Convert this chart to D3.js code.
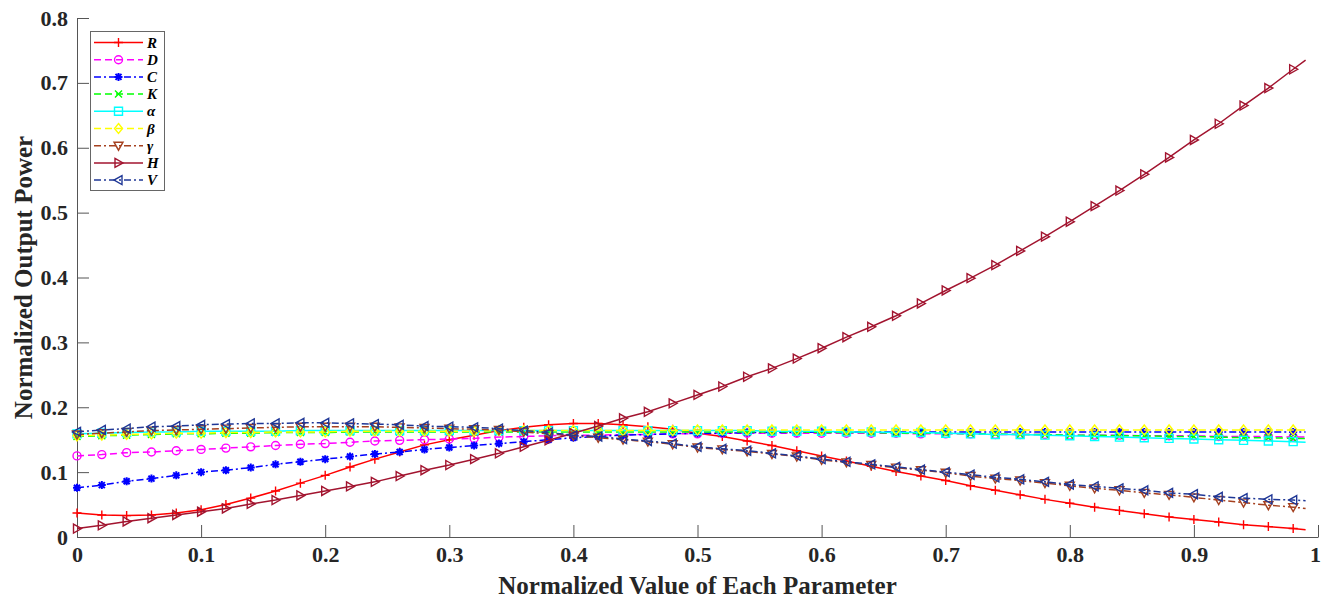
<!DOCTYPE html>
<html>
<head>
<meta charset="utf-8">
<script src="https://d3js.org/d3.v7.min.js"></script>
<style>
  body { margin: 0; background: #fff; }
  text { font-family: "Liberation Serif", "Times New Roman", serif; font-weight: bold; }
</style>
</head>
<body>
<div id="chart"></div>
<script>
// x positions: markers every 0.02, last point (0.99) is line end only
var xs = d3.range(0, 50).map(function(i) { return +(i * 0.02).toFixed(2); }).concat([0.99]);

var R = [0.037,0.034,0.033,0.034,0.037,0.042,0.050,0.060,0.071,0.083,
         0.095,0.108,0.120,0.131,0.142,0.150,0.157,0.164,0.169,0.173,
         0.175,0.175,0.173,0.170,0.166,0.160,0.155,0.148,0.141,0.133,
         0.125,0.117,0.109,0.101,0.094,0.087,0.079,0.072,0.065,0.058,
         0.052,0.046,0.041,0.036,0.031,0.027,0.023,0.019,0.016,0.013, 0.011];
var D = [0.125,0.127,0.130,0.131,0.133,0.135,0.137,0.139,0.141,0.143,
         0.144,0.146,0.148,0.149,0.150,0.151,0.152,0.154,0.155,0.156,
         0.157,0.157,0.158,0.158,0.159,0.159,0.160,0.160,0.160,0.160,
         0.160,0.160,0.160,0.160,0.159,0.159,0.159,0.158,0.158,0.158,
         0.157,0.157,0.157,0.156,0.156,0.156,0.155,0.155,0.155,0.154, 0.154];
var C = [0.076,0.080,0.086,0.090,0.095,0.100,0.103,0.107,0.112,0.116,
         0.120,0.124,0.128,0.131,0.135,0.138,0.141,0.144,0.147,0.150,
         0.153,0.155,0.157,0.158,0.159,0.160,0.160,0.161,0.161,0.161,
         0.162,0.162,0.162,0.162,0.162,0.162,0.162,0.162,0.162,0.162,
         0.162,0.162,0.162,0.162,0.162,0.162,0.162,0.162,0.162,0.162, 0.162];
var K = [0.155,0.156,0.157,0.158,0.159,0.159,0.160,0.160,0.161,0.161,
         0.161,0.162,0.162,0.162,0.162,0.162,0.162,0.162,0.162,0.162,
         0.162,0.162,0.162,0.162,0.162,0.162,0.162,0.162,0.162,0.162,
         0.161,0.161,0.161,0.160,0.160,0.160,0.159,0.159,0.158,0.158,
         0.157,0.157,0.156,0.156,0.155,0.155,0.154,0.153,0.153,0.152, 0.152];
var alpha = [0.159,0.160,0.161,0.162,0.162,0.163,0.163,0.163,0.163,0.164,
         0.164,0.164,0.164,0.164,0.164,0.164,0.164,0.164,0.164,0.164,
         0.164,0.164,0.164,0.164,0.164,0.164,0.164,0.164,0.163,0.163,
         0.163,0.162,0.162,0.161,0.161,0.160,0.159,0.158,0.158,0.157,
         0.156,0.155,0.154,0.153,0.152,0.151,0.150,0.149,0.148,0.147, 0.146];
var beta = [0.156,0.157,0.158,0.159,0.160,0.160,0.161,0.161,0.162,0.162,
         0.162,0.163,0.163,0.163,0.163,0.163,0.163,0.164,0.164,0.164,
         0.164,0.164,0.164,0.164,0.164,0.165,0.165,0.165,0.165,0.165,
         0.165,0.165,0.165,0.165,0.165,0.165,0.165,0.165,0.165,0.165,
         0.165,0.165,0.165,0.165,0.165,0.165,0.165,0.165,0.165,0.165, 0.165];
var gamma = [0.158,0.160,0.162,0.164,0.165,0.166,0.167,0.168,0.169,0.170,
         0.170,0.170,0.170,0.169,0.168,0.167,0.166,0.165,0.162,0.159,
         0.156,0.153,0.150,0.147,0.143,0.138,0.135,0.132,0.128,0.124,
         0.119,0.115,0.111,0.107,0.103,0.099,0.094,0.090,0.087,0.083,
         0.079,0.075,0.072,0.068,0.065,0.061,0.057,0.053,0.049,0.046, 0.044];
var H = [0.013,0.018,0.024,0.029,0.034,0.039,0.044,0.051,0.057,0.064,
         0.071,0.078,0.085,0.094,0.103,0.111,0.120,0.129,0.139,0.149,
         0.160,0.171,0.183,0.193,0.206,0.219,0.232,0.247,0.260,0.275,
         0.291,0.308,0.324,0.341,0.360,0.380,0.399,0.419,0.441,0.463,
         0.486,0.510,0.534,0.559,0.585,0.612,0.637,0.665,0.692,0.721, 0.735];
var V = [0.162,0.165,0.167,0.170,0.171,0.173,0.174,0.175,0.175,0.176,
         0.176,0.175,0.174,0.173,0.171,0.170,0.169,0.167,0.164,0.161,
         0.157,0.155,0.151,0.148,0.144,0.139,0.136,0.133,0.129,0.125,
         0.120,0.116,0.112,0.108,0.104,0.100,0.096,0.092,0.089,0.085,
         0.081,0.078,0.075,0.072,0.068,0.066,0.062,0.060,0.058,0.057, 0.056];

var xTicks = [0,0.1,0.2,0.3,0.4,0.5,0.6,0.7,0.8,0.9,1];
var yTicks = [0,0.1,0.2,0.3,0.4,0.5,0.6,0.7,0.8];

var series = [
  {name: "R", values: R,     color: "#ff0000", dash: null,        marker: "plus"},
  {name: "D", values: D,     color: "#ff00ff", dash: "7,4",       marker: "circle"},
  {name: "C", values: C,     color: "#0000ff", dash: "7,3,2,3",   marker: "star"},
  {name: "K", values: K,     color: "#00ff00", dash: "7,4",       marker: "cross"},
  {name: "\u03b1", values: alpha, color: "#00ffff", dash: null,   marker: "square"},
  {name: "\u03b2", values: beta,  color: "#ffff00", dash: "7,4",  marker: "diamond"},
  {name: "\u03b3", values: gamma, color: "#a5401f", dash: "7,3,2,3", marker: "down"},
  {name: "H", values: H,     color: "#a2142f", dash: null,        marker: "right"},
  {name: "V", values: V,     color: "#1f3796", dash: "7,3,2,3",   marker: "left"}
];

var width = 1322, height = 600;
var svg = d3.select("#chart").append("svg")
    .attr("width", width)
    .attr("height", height);

var x = d3.scaleLinear().domain([0, 1]).range([77, 1318]);
var y = d3.scaleLinear().domain([0, 0.8]).range([537, 18]);

// marker path around (0,0)
function markerPath(type) {
  var s = 4.5;
  switch (type) {
    case "plus":   return "M" + (-s) + ",0H" + s + "M0," + (-s) + "V" + s;
    case "cross":  return "M-3.5,-3.5L3.5,3.5M-3.5,3.5L3.5,-3.5";
    case "star":   return "M-4,0H4M0,-4V4M-3,-3L3,3M-3,3L3,-3";
    case "circle": return d3.symbol(d3.symbolCircle, 50)();
    case "square": return "M-4,-4H4V4H-4Z";
    case "diamond":return "M0,-5L4,0L0,5L-4,0Z";
    case "down":   return "M-4.5,-3.5H4.5L0,4.5Z";
    case "right":  return "M-3.5,-4.5L4.5,0L-3.5,4.5Z";
    case "left":   return "M3.5,-4.5L-4.5,0L3.5,4.5Z";
  }
}

// axes
var xAxis = d3.axisBottom(x).tickValues(xTicks).tickSizeInner(-12).tickSizeOuter(0)
    .tickPadding(9).tickFormat(d3.format("~g"));
var yAxis = d3.axisLeft(y).tickValues(yTicks).tickSizeInner(-12).tickSizeOuter(0)
    .tickPadding(9).tickFormat(d3.format("~g"));

var gx = svg.append("g").attr("transform", "translate(0,537)").call(xAxis);
var gy = svg.append("g").attr("transform", "translate(77,0)").call(yAxis);
[gx, gy].forEach(function(g) {
  g.selectAll("path, line").attr("stroke", "#555").attr("stroke-width", 1);
  g.selectAll("text").attr("fill", "#262626").style("font-size", "22px")
    .style("font-family", "'Liberation Serif', serif").style("font-weight", "bold");
});
// keep the last x label inside the page
gx.selectAll(".tick text").filter(function(d) { return d === 1; }).attr("dx", -3);

// lines and markers
var line = d3.line()
    .x(function(d, i) { return x(xs[i]); })
    .y(function(d) { return y(d); });

var plot = svg.append("g");
series.forEach(function(s) {
  var g = plot.append("g");
  g.append("path")
    .attr("d", line(s.values))
    .attr("fill", "none")
    .attr("stroke", s.color)
    .attr("stroke-width", 1.5)
    .attr("stroke-dasharray", s.dash);
  g.selectAll("path.m")
    .data(s.values.slice(0, 50))
    .enter().append("path")
      .attr("class", "m")
      .attr("transform", function(d, i) { return "translate(" + x(xs[i]) + "," + y(d) + ")"; })
      .attr("d", markerPath(s.marker))
      .attr("fill", "none")
      .attr("stroke", s.color)
      .attr("stroke-width", s.marker === "star" ? 2 : 1.4);
});

// axis titles
svg.append("text")
    .attr("x", 697.5).attr("y", 594)
    .attr("text-anchor", "middle")
    .attr("fill", "#262626")
    .style("font-size", "25px")
    .text("Normalized Value of Each Parameter");

svg.append("text")
    .attr("transform", "translate(32,277.5) rotate(-90)")
    .attr("text-anchor", "middle")
    .attr("fill", "#262626")
    .style("font-size", "25px")
    .text("Normalized Output Power");

// legend
var legend = svg.append("g");
legend.append("rect")
    .attr("x", 90.5).attr("y", 31.5)
    .attr("width", 74).attr("height", 159)
    .attr("fill", "#fff")
    .attr("stroke", "#666")
    .attr("stroke-width", 1);

series.forEach(function(s, i) {
  var ly = 42.5 + i * 17.2;
  var g = legend.append("g");
  g.append("line")
    .attr("x1", 94).attr("x2", 143)
    .attr("y1", ly).attr("y2", ly)
    .attr("stroke", s.color)
    .attr("stroke-width", 1.5)
    .attr("stroke-dasharray", s.dash);
  g.append("path")
    .attr("transform", "translate(118.5," + ly + ")")
    .attr("d", markerPath(s.marker))
    .attr("fill", "none")
    .attr("stroke", s.color)
    .attr("stroke-width", s.marker === "star" ? 2 : 1.4);
  g.append("text")
    .attr("x", 147).attr("y", ly + 5)
    .attr("fill", "#000")
    .style("font-size", "15px")
    .style("font-style", "italic")
    .text(s.name);
});
</script>
</body>
</html>
